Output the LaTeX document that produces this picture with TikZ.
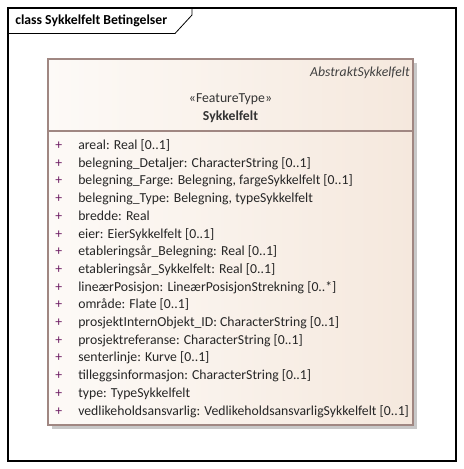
\documentclass[tikz,border=0pt]{standalone}
\usepackage{fontspec}
\setmainfont{Carlito}
\definecolor{classline}{RGB}{160,135,130}
\definecolor{classleft}{RGB}{253,250,247}
\definecolor{classright}{RGB}{245,232,221}
\definecolor{plusmark}{RGB}{110,30,100}
\definecolor{shadowgray}{RGB}{200,200,200}
\newcommand{\umlfont}{\fontsize{10.3pt}{12pt}\selectfont}
\tikzset{
  attr/.style={anchor=base west, inner sep=0pt, font=\umlfont},
  vis/.style={attr, text=plusmark},
}
\begin{document}
\begin{tikzpicture}[x=0.75pt, y=-0.75pt]
    \useasboundingbox (0,0) rectangle (464,469);
    % frame with title tab
    \draw[black, line width=0.9pt] (8,8) rectangle (456,461);
    \draw[black, line width=0.6pt] (8,33.5) -- (175,33.5) -- (192,15) -- (192,8);
    \node[attr, font=\bfseries\umlfont] (title) at (15,24.5){class Sykkelfelt Betingelser};
    % class box
    \fill[shadowgray] (52,63) rectangle (417,429);
    \shade[left color=classleft, right color=classright] (48,59) rectangle (413,425);
    \draw[classline, line width=0.8pt] (48,59) rectangle (413,425);
    \draw[classline, line width=0.8pt] (48,131) -- (413,131);
    \node[attr, anchor=base east, font=\itshape\umlfont, text=black!75] (parent) at (410,76){AbstraktSykkelfelt};
    \node[attr, anchor=base, text=black!80] (stereo) at (230.5,102){«FeatureType»};
    \node[attr, anchor=base, font=\bfseries\umlfont, text=black!80] (cname) at (230.5,120.5){Sykkelfelt};
    \foreach \a [count=\i from 0] in {
        {areal: Real [0..1]},
        {belegning\_Detaljer: CharacterString [0..1]},
        {belegning\_Farge: Belegning, fargeSykkelfelt [0..1]},
        {belegning\_Type: Belegning, typeSykkelfelt},
        {bredde: Real},
        {eier: EierSykkelfelt [0..1]},
        {etableringsår\_Belegning: Real [0..1]},
        {etableringsår\_Sykkelfelt: Real [0..1]},
        {lineærPosisjon: LineærPosisjonStrekning [0..*]},
        {område: Flate [0..1]},
        {prosjektInternObjekt\_ID: CharacterString [0..1]},
        {prosjektreferanse: CharacterString [0..1]},
        {senterlinje: Kurve [0..1]},
        {tilleggsinformasjon: CharacterString [0..1]},
        {type: TypeSykkelfelt},
        {vedlikeholdsansvarlig: VedlikeholdsansvarligSykkelfelt [0..1]}}{
      \node[vis] (plus\i) at (55,149.5+17.7*\i){+};
      \node[attr, text=black!85] (attr\i) at (78,149.5+17.7*\i){\a};
    }
  \end{tikzpicture}
\end{document}
